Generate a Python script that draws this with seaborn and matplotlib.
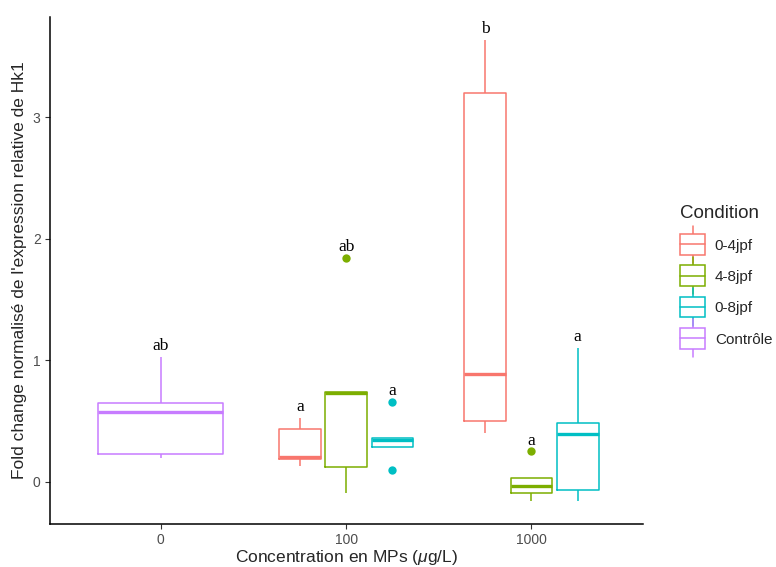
import matplotlib
matplotlib.use("Agg")
import matplotlib.pyplot as plt
from matplotlib.legend_handler import HandlerBase
from matplotlib.patches import Rectangle
from matplotlib.lines import Line2D
import seaborn as sns
import pandas as pd

# ---------------- data ----------------
concentrations = ["0", "100", "1000"]
conditions = ["0-4jpf", "4-8jpf", "0-8jpf", "Contrôle"]
palette = ["#F8766D", "#7CAE00", "#00BFC4", "#C77CFF"]

ctrl_0 = [0.192, 0.228, 0.569, 0.645, 1.025]
c04_100 = [0.126, 0.184, 0.200, 0.431, 0.525]
c48_100 = [-0.093, 0.118, 0.730, 0.736, 1.840]
c08_100 = [0.093, 0.288, 0.346, 0.357, 0.654]
c04_1000 = [0.401, 0.497, 0.882, 3.195, 3.635]
c48_1000 = [-0.162, -0.096, -0.033, 0.027, 0.250]
c08_1000 = [-0.162, -0.066, 0.390, 0.486, 1.099]

# significance letters (group order: Contrôle@0, then conditions at 100, 1000)
letters_ctrl = ["ab"]
letters_100 = ["a", "ab", "a"]
letters_1000 = ["b", "a", "a"]

rows = []
for v in ctrl_0:
    rows.append(("0", "Contrôle", v))
for cond, vals in zip(conditions[:3], [c04_100, c48_100, c08_100]):
    for v in vals:
        rows.append(("100", cond, v))
for cond, vals in zip(conditions[:3], [c04_1000, c48_1000, c08_1000]):
    for v in vals:
        rows.append(("1000", cond, v))
df = pd.DataFrame(rows, columns=["conc", "cond", "value"])
df_ctrl = df[df["cond"] == "Contrôle"]
df_trt = df[df["cond"] != "Contrôle"]

# ---------------- style ----------------
sns.set_theme(style="white")
plt.rcParams["font.family"] = ["Liberation Sans", "DejaVu Sans"]
plt.rcParams["mathtext.fontset"] = "custom"
plt.rcParams["mathtext.it"] = "Liberation Sans:italic"
plt.rcParams["mathtext.rm"] = "Liberation Sans"

fig = plt.figure(figsize=(7.76, 5.67), dpi=100)
ax = fig.add_axes([0.064, 0.0753, 0.764, 0.8952])

lw = 1.1
common = dict(fill=False, linewidth=lw, whis=1.5,
              medianprops=dict(linewidth=2.4),
              capprops=dict(visible=False),
              flierprops=dict(marker="o", markersize=6, markeredgewidth=0))

sns.boxplot(data=df_ctrl, x="conc", y="value", order=concentrations,
            color=palette[3], width=0.675, ax=ax, **common)
sns.boxplot(data=df_trt, x="conc", y="value", hue="cond", order=concentrations,
            hue_order=conditions[:3], palette=palette[:3], width=0.75, gap=0.1,
            dodge=True, legend=False, ax=ax, **common)

# color fliers as filled dots
for ln in ax.lines:
    if ln.get_marker() == "o":
        c = ln.get_markeredgecolor()
        ln.set_markerfacecolor(c)
        ln.set_markeredgecolor(c)

# letters above groups
serif = ["Liberation Serif", "DejaVu Serif"]
off = 0.055
ax.text(0, max(ctrl_0) + off, letters_ctrl[0], ha="center", va="baseline",
        fontsize=12.5, family=serif, color="black")
for i, (groups, letts) in enumerate([([c04_100, c48_100, c08_100], letters_100),
                                     ([c04_1000, c48_1000, c08_1000], letters_1000)]):
    for j, (vals, lt) in enumerate(zip(groups, letts)):
        ax.text(i + 1 + (j - 1) * 0.25, max(vals) + off, lt, ha="center",
                va="baseline", fontsize=12.5, family=serif, color="black")

ax.set_xlim(-0.6, 2.6)
ax.set_ylim(-0.352, 3.827)
ax.set_yticks([0, 1, 2, 3])
ax.set_xticks([0, 1, 2])
ax.set_xticklabels(concentrations)
ax.tick_params(axis="both", which="both", length=3.5, width=0.8, color="#333333",
               labelcolor="#4D4D4D", labelsize=10, pad=3, bottom=True, left=True)
for s in ["top", "right"]:
    ax.spines[s].set_visible(False)
for s in ["left", "bottom"]:
    ax.spines[s].set_color("black")
    ax.spines[s].set_linewidth(1.1)
ax.set_xlabel(r"Concentration en MPs ($\mathit{\mu}$g/L)", fontsize=12.5, labelpad=0.5)
ax.set_ylabel("Fold change normalisé de l'expression relative de Hk1", fontsize=12.5,
              labelpad=4)


# ---------------- legend with boxplot keys ----------------
class BoxHandler(HandlerBase):
    def create_artists(self, legend, orig_handle, xd, yd, width, height, fontsize, trans):
        col = orig_handle.get_color()
        cy = yd + height / 2
        bh = 15.0
        tot = 27.0
        rect = Rectangle((xd, cy - bh / 2), width, bh, facecolor="white",
                         edgecolor=col, linewidth=lw, transform=trans)
        cx = xd + width / 2
        med = Line2D([xd, xd + width], [cy, cy], color=col, linewidth=lw,
                     transform=trans)
        w1 = Line2D([cx, cx], [cy - tot / 2, cy - bh / 2], color=col, linewidth=lw,
                    transform=trans)
        w2 = Line2D([cx, cx], [cy + bh / 2, cy + tot / 2], color=col, linewidth=lw,
                    transform=trans)
        return [w1, w2, rect, med]


handles = [Line2D([], [], color=c) for c in palette]
leg = fig.legend(handles, conditions, handler_map={Line2D: BoxHandler()},
                 loc="upper left", bbox_to_anchor=(0.869, 0.649), frameon=False,
                 title="Condition", fontsize=11, title_fontsize=13.5,
                 handlelength=1.6, handleheight=0.7, labelspacing=1.13,
                 handletextpad=0.65, borderaxespad=0)
leg._legend_box.align = "left"
leg._legend_box.sep = 12

fig.savefig("out.png", dpi=100)
